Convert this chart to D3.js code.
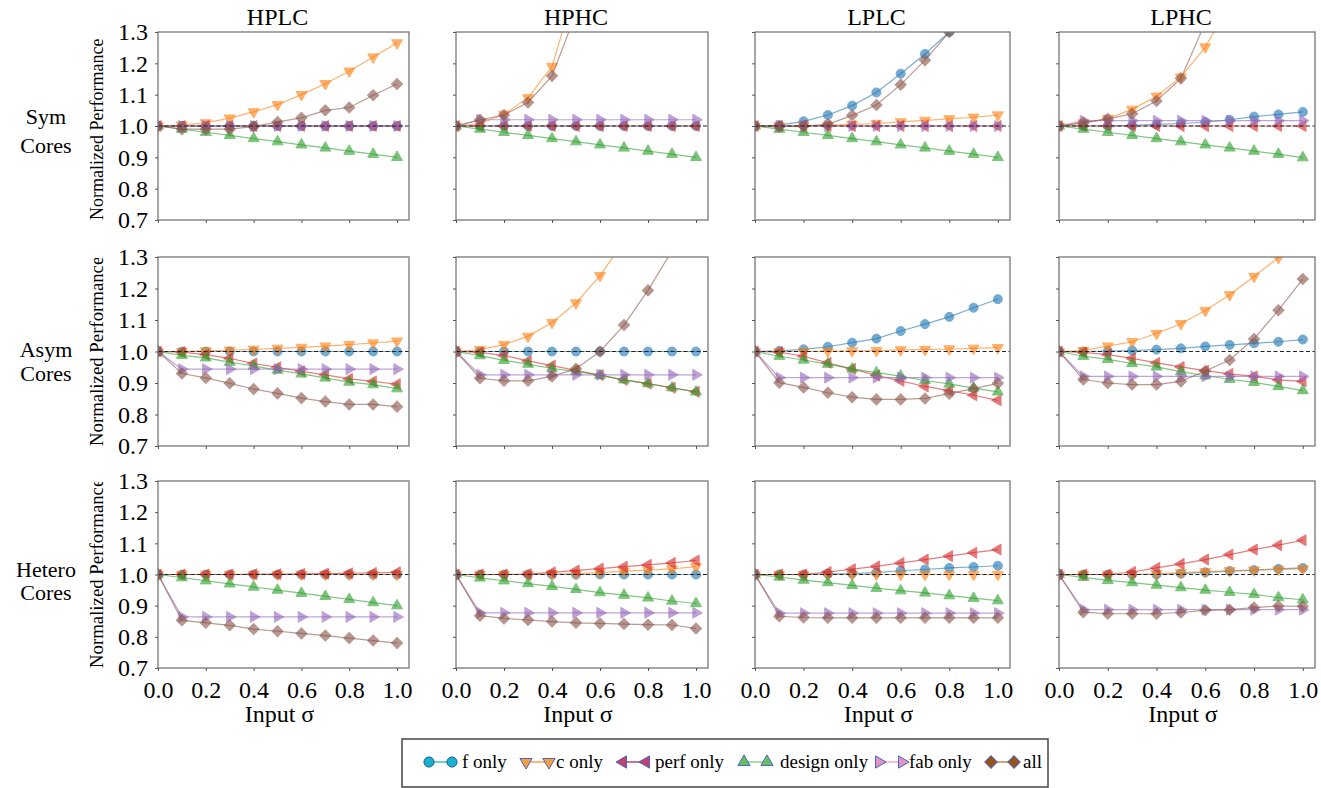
<!DOCTYPE html>
<html lang="en">
<head>
<meta charset="utf-8">
<script src="https://d3js.org/d3.v7.min.js"></script>
<style>
  *{margin:0;padding:0}
  body{background:#fff;width:1321px;height:788px;overflow:hidden}
  svg{display:block;font-family:"Liberation Serif","Times New Roman",serif}
</style>
</head>
<body>
<script>
// x values (input sigma) and tick labels
const sigma=[0,0.1,0.2,0.3,0.4,0.5,0.6,0.7,0.8,0.9,1.0];
const xTickVals=[0,0.2,0.4,0.6,0.8,1.0];
const yTickVals=[0.7,0.8,0.9,1.0,1.1,1.2,1.3];
const colNames=['HPLC','HPHC','LPLC','LPHC'];
const rowNames=[['Sym','Cores'],['Asym','Cores'],['Hetero','Cores']];
const seriesNames=['f only','c only','perf only','design only','fab only','all'];

// each panel: [f only, c only, perf only, design only, fab only, all]
const symHPLC=[
  [1,1,1,1,1,1,1,1,1,1,1],
  [1,1.003,1.01,1.025,1.045,1.068,1.1,1.135,1.175,1.22,1.265],
  [1,1,1,1,1,1,1,1,1,1,1],
  [1,0.99,0.98,0.97,0.96,0.95,0.94,0.93,0.92,0.91,0.90],
  [1,1,1,1,1,1,1,1,1,1,1],
  [1,0.99,0.99,0.99,0.998,1.013,1.026,1.05,1.059,1.098,1.134]
];
const symHPHC=[
  [1,1,1,1,1,1,1,1,1,1,1],
  [1,1.008,1.037,1.09,1.19,1.446,1.75,2.1,2.5,2.95,3.45],
  [1,1,1,1,1,1,1,1,1,1,1],
  [1,0.99,0.98,0.97,0.96,0.95,0.94,0.93,0.92,0.91,0.90],
  [1,1.02,1.02,1.02,1.02,1.02,1.02,1.02,1.02,1.02,1.02],
  [1,1.02,1.035,1.075,1.16,1.36,1.65,2.0,2.4,2.85,3.35]
];
const symLPLC=[
  [1,1.003,1.015,1.035,1.065,1.107,1.167,1.23,1.30,1.38,1.47],
  [1,1,1,1.002,1.005,1.008,1.013,1.018,1.023,1.028,1.035],
  [1,1,1,1,1,1,1,1,1,1,1],
  [1,0.99,0.98,0.97,0.96,0.95,0.94,0.93,0.92,0.91,0.90],
  [1,1,1,1,1,1,1,1,1,1,1],
  [1,0.998,1.0,1.005,1.034,1.067,1.132,1.21,1.30,1.40,1.52]
];
const symLPHC=[
  [1,1,1,1.002,1.005,1.008,1.012,1.02,1.03,1.037,1.045],
  [1,1.01,1.024,1.053,1.095,1.156,1.252,1.39,1.55,1.75,1.98],
  [1,1,1,1,1,1,1,1,1,1,1],
  [1,0.99,0.98,0.97,0.96,0.95,0.94,0.93,0.92,0.91,0.899],
  [1,1.017,1.017,1.017,1.017,1.017,1.017,1.017,1.017,1.017,1.017],
  [1,1.01,1.023,1.039,1.08,1.152,1.33,1.55,1.8,2.1,2.45]
];
const asymHPLC=[
  [1,1,1,1,1,1,1,1,1,1,1],
  [1,1,1.002,1.004,1.007,1.01,1.013,1.017,1.022,1.027,1.033],
  [1,0.998,0.99,0.978,0.962,0.95,0.937,0.926,0.913,0.905,0.896],
  [1,0.988,0.98,0.966,0.954,0.941,0.929,0.916,0.903,0.895,0.882],
  [1,0.944,0.944,0.944,0.944,0.944,0.944,0.944,0.944,0.944,0.944],
  [1,0.93,0.916,0.899,0.881,0.867,0.852,0.841,0.832,0.832,0.825]
];
const asymHPHC=[
  [1,1,1,1,1,1,1,1,1,1,1],
  [1,1.006,1.022,1.048,1.092,1.154,1.241,1.35,1.48,1.63,1.8],
  [1,0.997,0.987,0.97,0.955,0.94,0.925,0.91,0.898,0.885,0.872],
  [1,0.987,0.972,0.96,0.946,0.937,0.924,0.91,0.898,0.885,0.872],
  [1,0.926,0.926,0.926,0.926,0.926,0.926,0.926,0.926,0.926,0.926],
  [1,0.915,0.907,0.907,0.921,0.945,1.0,1.084,1.194,1.32,1.47]
];
const asymLPLC=[
  [1,1.002,1.007,1.015,1.028,1.041,1.065,1.087,1.11,1.139,1.166],
  [1,1,1,1.001,1.002,1.003,1.005,1.006,1.008,1.01,1.012],
  [1,0.998,0.985,0.964,0.945,0.924,0.907,0.889,0.876,0.861,0.845],
  [1,0.985,0.973,0.96,0.945,0.933,0.922,0.908,0.897,0.884,0.872],
  [1,0.917,0.917,0.917,0.917,0.917,0.917,0.917,0.917,0.917,0.917],
  [1,0.901,0.886,0.869,0.855,0.848,0.848,0.851,0.866,0.882,0.899]
];
const asymLPHC=[
  [1,1,1.001,1.003,1.006,1.01,1.016,1.021,1.026,1.031,1.038],
  [1,1.003,1.017,1.031,1.057,1.088,1.13,1.18,1.238,1.298,1.37],
  [1,0.997,0.99,0.978,0.964,0.951,0.939,0.929,0.921,0.91,0.905],
  [1,0.985,0.975,0.962,0.951,0.936,0.923,0.912,0.902,0.889,0.876],
  [1,0.921,0.921,0.921,0.921,0.921,0.921,0.921,0.921,0.921,0.921],
  [1,0.911,0.9,0.895,0.895,0.905,0.938,0.973,1.04,1.131,1.23]
];
const hetHPLC=[
  [1,1,1,1,1,1,1,1,1,1,1],
  [1,1,1,1,1,1,1,1,1,1,1],
  [1,1,1,1,1.001,1.001,1.002,1.003,1.004,1.005,1.007],
  [1,0.99,0.98,0.97,0.96,0.95,0.94,0.93,0.92,0.91,0.90],
  [1,0.864,0.864,0.864,0.864,0.864,0.864,0.864,0.864,0.864,0.864],
  [1,0.853,0.845,0.837,0.825,0.818,0.811,0.804,0.796,0.788,0.78]
];
const hetHPHC=[
  [1,1,1,1,1,1,1,1,1,1,1],
  [1,1,1,1,1.002,1.003,1.006,1.011,1.014,1.018,1.025],
  [1,1,1,1.001,1.007,1.013,1.019,1.025,1.031,1.037,1.045],
  [1,0.989,0.98,0.971,0.962,0.952,0.942,0.934,0.925,0.915,0.907],
  [1,0.877,0.877,0.877,0.877,0.877,0.877,0.877,0.877,0.877,0.877],
  [1,0.868,0.859,0.854,0.849,0.845,0.843,0.841,0.839,0.838,0.827]
];
const hetLPLC=[
  [1,1,1,1.002,1.003,1.006,1.012,1.016,1.021,1.024,1.028],
  [1,1,1,1,1,1,1,1,1,1,1],
  [1,1,1,1.008,1.017,1.026,1.037,1.048,1.059,1.07,1.08],
  [1,0.992,0.982,0.974,0.965,0.956,0.948,0.941,0.932,0.924,0.916],
  [1,0.876,0.876,0.876,0.876,0.876,0.876,0.876,0.876,0.876,0.876],
  [1,0.866,0.862,0.861,0.861,0.861,0.861,0.861,0.861,0.861,0.861]
];
const hetLPHC=[
  [1,1,1,1,1,1.003,1.007,1.011,1.014,1.018,1.021],
  [1,1,1,1,1.002,1.006,1.009,1.012,1.014,1.016,1.018],
  [1,1,1,1.008,1.021,1.034,1.048,1.064,1.08,1.094,1.11],
  [1,0.991,0.981,0.974,0.966,0.958,0.95,0.943,0.936,0.926,0.919],
  [1,0.887,0.887,0.887,0.887,0.887,0.887,0.887,0.887,0.887,0.887],
  [1,0.879,0.874,0.874,0.874,0.878,0.885,0.887,0.894,0.899,0.898]
];
const panels=[
  [symHPLC,symHPHC,symLPLC,symLPHC],
  [asymHPLC,asymHPHC,asymLPLC,asymLPHC],
  [hetHPLC,hetHPHC,hetLPLC,hetLPHC]
];

// styling
const colors=['#1f77b4','#ff7f0e','#d62728','#2ca02c','#9467bd','#8c564b'];
const legFill=['#1ab0d0','#f4a040','#c4406c','#66c060','#e294c4','#9a5214'];
const legEdge=['#1b5e8e','#4a64c0','#4a64c0','#4a64c0','#4a64c0','#4a64c0'];
const legLine=['#3fc0c8','#f0a050','#b84468','#8fd08f','#eab0cc','#c88a48'];
const shapes=[
  {t:d3.symbolCircle,s:64,r:0},
  {t:d3.symbolTriangle,s:52,r:180},
  {t:d3.symbolTriangle,s:52,r:-90},
  {t:d3.symbolTriangle,s:52,r:0},
  {t:d3.symbolTriangle,s:52,r:90},
  {t:d3.symbolSquare,s:62,r:45}
];
const colX=[158,456,755,1059], colW=[251,252,255,256];
const rowY=[32,257,481], rowH=[188,189,187];
const rowLabelY=[[124,153],[357,381],[577,600]];

const svg=d3.select('body').append('svg').attr('width',1321).attr('height',788);
const defs=svg.append('defs');

panels.forEach((row,ri)=>{
  row.forEach((pdata,ci)=>{
    const x=d3.scaleLinear().domain([0,1.05]).range([colX[ci],colX[ci]+colW[ci]]);
    const y=d3.scaleLinear().domain([0.7,1.3]).range([rowY[ri]+rowH[ri],rowY[ri]]);
    const id='clip'+ri+ci;
    defs.append('clipPath').attr('id',id).append('rect')
      .attr('x',colX[ci]).attr('y',rowY[ri]).attr('width',colW[ci]).attr('height',rowH[ri]);
    const g=svg.append('g').attr('clip-path','url(#'+id+')');
    const line=d3.line().x(d=>x(d[0])).y(d=>y(d[1]));
    pdata.forEach((vals,si)=>{
      const pts=sigma.map((s,i)=>[s,vals[i]]);
      g.append('path').datum(pts).attr('d',line)
        .attr('fill','none').attr('stroke',colors[si]).attr('stroke-width',1.2).attr('opacity',0.6);
      const sym=d3.symbol().type(shapes[si].t).size(shapes[si].s);
      g.selectAll(null).data(pts).enter().append('path')
        .attr('d',sym)
        .attr('transform',d=>`translate(${x(d[0])},${y(d[1])}) rotate(${shapes[si].r})`)
        .attr('fill',colors[si]).attr('stroke',colors[si]).attr('stroke-width',1)
        .attr('opacity',0.62);
    });
    // reference line at 1.0
    g.append('line')
      .attr('x1',colX[ci]).attr('x2',colX[ci]+colW[ci])
      .attr('y1',y(1)).attr('y2',y(1))
      .attr('stroke','#222').attr('stroke-width',1.1).attr('stroke-dasharray','4,2.5');

    // frame
    svg.append('rect').attr('x',colX[ci]).attr('y',rowY[ri]).attr('width',colW[ci]).attr('height',rowH[ri])
      .attr('fill','none').attr('stroke','#777').attr('stroke-width',1.3);

    const yAxis=svg.append('g').attr('transform',`translate(${colX[ci]},0)`)
      .call(d3.axisLeft(y).tickValues(yTickVals).tickSize(3).tickPadding(7)
        .tickFormat(ci===0?d3.format('.1f'):''));
    const xAxis=svg.append('g').attr('transform',`translate(0,${rowY[ri]+rowH[ri]})`)
      .call(d3.axisBottom(x).tickValues(xTickVals).tickSize(3).tickPadding(10)
        .tickFormat(ri===2?d3.format('.1f'):''));
    [yAxis,xAxis].forEach(a=>{
      a.select('.domain').remove();
      a.selectAll('line').attr('stroke','#555');
      a.selectAll('text').attr('font-family','Liberation Serif').attr('font-size',24).attr('fill','#000');
    });

    if(ri===0){
      svg.append('text').attr('x',colX[ci]+colW[ci]/2-6).attr('y',25)
        .attr('text-anchor','middle').attr('font-size',24).text(colNames[ci]);
    }
    if(ri===2){
      svg.append('text').attr('x',colX[ci]+colW[ci]/2-4).attr('y',722)
        .attr('text-anchor','middle').attr('font-size',24).text('Input σ');
    }
  });

  // row label and y label
  svg.append('text').attr('x',46).attr('y',rowLabelY[ri][0]).attr('text-anchor','middle')
    .attr('font-size',22).text(rowNames[ri][0]);
  svg.append('text').attr('x',46).attr('y',rowLabelY[ri][1]).attr('text-anchor','middle')
    .attr('font-size',22).text(rowNames[ri][1]);
  const cid='yl'+ri;
  defs.append('clipPath').attr('id',cid).append('rect')
    .attr('x',80).attr('y',rowY[ri]+1).attr('width',40).attr('height',rowH[ri]+10);
  svg.append('g').attr('clip-path','url(#'+cid+')').append('text')
    .attr('transform',`translate(103,${rowY[ri]+rowH[ri]}) rotate(-90)`)
    .attr('font-size',ri===0?18:18.8).text('Normalized Performance');
});

// legend
const leg=svg.append('g');
leg.append('rect').attr('x',402).attr('y',739).attr('width',646).attr('height',48)
  .attr('fill','#fff').attr('stroke','#444').attr('stroke-width',1.5);
const legX=[429,526,623,744,879,991];
const legTextX=[462,556,655,780,909,1023];
seriesNames.forEach((name,si)=>{
  const x0=legX[si], y0=762;
  leg.append('line').attr('x1',x0).attr('x2',x0+23).attr('y1',y0).attr('y2',y0)
    .attr('stroke',legLine[si]).attr('stroke-width',1.5);
  const sym=d3.symbol().type(shapes[si].t).size(shapes[si].s*1.25);
  [x0,x0+23].forEach(px=>{
    leg.append('path').attr('d',sym)
      .attr('transform',`translate(${px},${y0}) rotate(${shapes[si].r})`)
      .attr('fill',legFill[si]).attr('stroke',legEdge[si]).attr('stroke-width',1);
  });
  leg.append('text').attr('x',legTextX[si]).attr('y',768)
    .attr('font-size',19).text(name);
});
</script>
</body>
</html>
